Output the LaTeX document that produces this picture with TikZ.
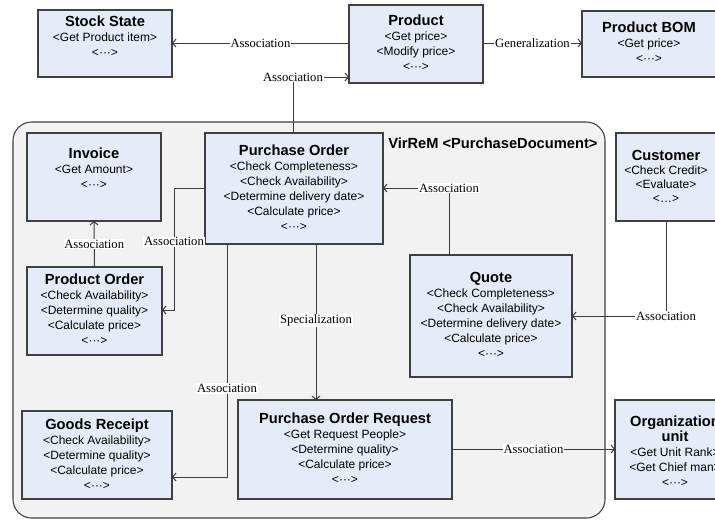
\documentclass[tikz,border=0pt]{standalone}
\usepackage{fontspec}
\setmainfont{Liberation Serif}
\setsansfont{Liberation Sans}
\usetikzlibrary{arrows.meta,fit}
\definecolor{boxfill}{RGB}{230,236,247}
\definecolor{boxline}{RGB}{64,64,64}
\definecolor{contfill}{RGB}{242,242,242}
\definecolor{wireline}{RGB}{60,60,60}
\newcommand\boxtitle[1]{{\fontsize{11}{11.25}\selectfont\bfseries #1}}
\tikzset{
  box/.style={draw=boxline, fill=boxfill, line width=0.8pt, inner sep=0pt, outer sep=0pt},
  cont/.style={draw=boxline, fill=contfill, line width=0.8pt, rounded corners=14pt, inner sep=0pt, outer sep=0pt},
  txt/.style={anchor=north, inner sep=0pt, align=center, text=black,
              font=\sffamily\fontsize{9}{11.25}\selectfont},
  lab/.style={fill=white, inner sep=0.6pt, text=black, font=\rmfamily\fontsize{9.5}{10}\selectfont},
  wire/.style={draw=wireline, line width=0.75pt},
  arr/.style={wire, -{Straight Barb[length=2.5pt,width=6pt]}},
}
\begin{document}
\begin{tikzpicture}[x=0.75pt, y=-0.75pt]
\clip (0,0) rectangle (715,519);
\fill[white] (0,0) rectangle (715,519);

% container
\node[cont, fit={(13,122) (605,518)}] (vr) {};
\node[anchor=west, inner sep=0pt, font=\sffamily\bfseries\fontsize{11}{12}\selectfont] (vrlab) at (388,143) {VirReM <PurchaseDocument>};

% boxes
\node[box, fit={(38,10) (172,77)}] (ss) {};
\node[txt] (ss-t) at (105,15.5) {\boxtitle{Stock State}\\<Get Product item>\\<···>};

\node[box, fit={(349,5) (483,83)}] (product) {};
\node[txt] (product-t) at (416,14.5) {\boxtitle{Product}\\<Get price>\\<Modify price>\\<···>};

\node[box, fit={(582,11) (716,77)}] (bom) {};
\node[txt] (bom-t) at (649,21.5) {\boxtitle{Product BOM}\\<Get price>\\<···>};

\node[box, fit={(27,133) (161,221)}] (invoice) {};
\node[txt] (invoice-t) at (94,147.5) {\boxtitle{Invoice}\\<Get Amount>\\<···>};

\node[box, fit={(205,133) (383,244)}] (po) {};
\node[txt] (po-t) at (294,144.5) {\boxtitle{Purchase Order}\\<Check Completeness>\\<Check Availability>\\<Determine delivery date>\\<Calculate price>\\<···>};

\node[box, fit={(27,267) (162,355)}] (prodorder) {};
\node[txt] (prodorder-t) at (94.5,273.5) {\boxtitle{Product Order}\\<Check Availability>\\<Determine quality>\\<Calculate price>\\<···>};

\node[box, fit={(410,255) (572,377)}] (quote) {};
\node[txt] (quote-t) at (491,271.5) {\boxtitle{Quote}\\<Check Completeness>\\<Check Availability>\\<Determine delivery date>\\<Calculate price>\\<···>};

\node[box, fit={(616,133) (716,221)}] (customer) {};
\node[txt, font=\sffamily\fontsize{9}{10.5}\selectfont] (customer-t) at (666,149.5) {\boxtitle{Customer}\\<Check Credit>\\<Evaluate>\\<…>};

\node[box, fit={(22,411) (172,499)}] (gr) {};
\node[txt] (gr-t) at (97,418.5) {\boxtitle{Goods Receipt}\\<Check Availability>\\<Determine quality>\\<Calculate price>\\<···>};

\node[box, fit={(238,400) (452,499)}] (por) {};
\node[txt] (por-t) at (345,412.5) {\boxtitle{Purchase Order Request}\\<Get Request People>\\<Determine quality>\\<Calculate price>\\<···>};

\node[box, fit={(615,400) (735,499)}] (org) {};
\node[txt] (org-t) at (675,415.5) {\boxtitle{Organization}\\\boxtitle{unit}\\<Get Unit Rank>\\<Get Chief man>\\<···>};

% connectors
\draw[arr] (product.west |- 0,43) -- node[lab] {Association} (ss.east |- 0,43);
\draw[arr] (product.east |- 0,43) -- node[lab] {Generalization} (bom.west |- 0,43);
\draw[arr] (po.north -| 293,0) |- node[lab, pos=0.5] {Association} (product.west |- 0,77);
\draw[arr] (prodorder.north) -- node[lab] {Association} (invoice.south);
\draw[arr] (po.west |- 0,188) -- (174,188) -- node[lab, pos=0.44] {Association} (174,310) -- (prodorder.east |- 0,310);
\draw[arr] (po.south -| 227,0) -- node[lab, pos=0.62] {Association} (227,477) -- (gr.east |- 0,477);
\draw[arr] (po.south -| 316,0) -- node[lab, pos=0.49] {Specialization} (por.north -| 316,0);
\draw[arr] (quote.north -| 449,0) |- node[lab, pos=0.5] {Association} (po.east |- 0,188);
\draw[arr] (customer.south -| 666,0) |- node[lab, pos=0.5] {Association} (quote.east |- 0,316);
\draw[arr] (por.east |- 0,449) -- node[lab] {Association} (org.west |- 0,449);
\end{tikzpicture}
\end{document}
